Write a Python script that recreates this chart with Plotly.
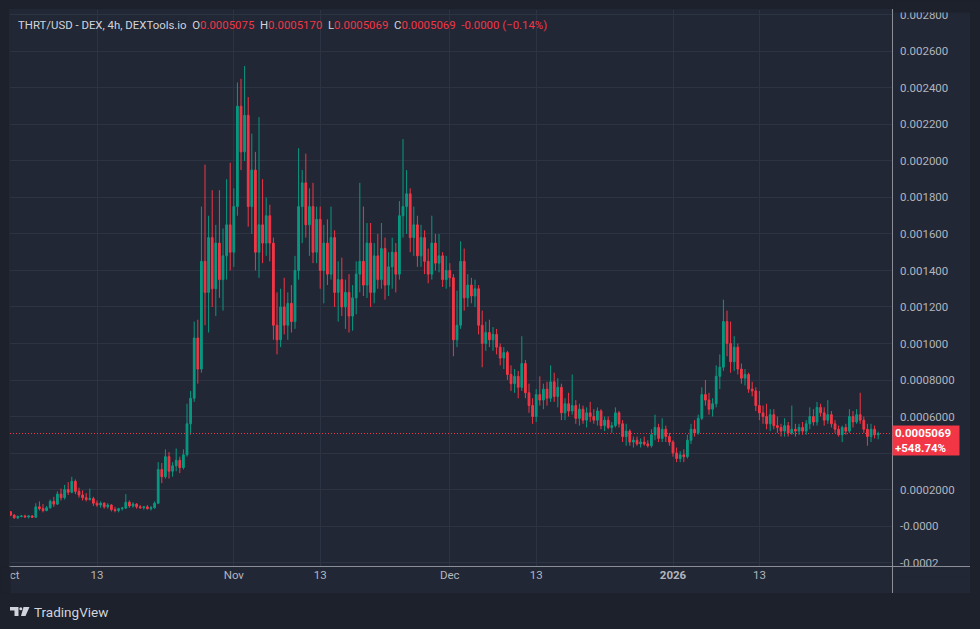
import plotly.graph_objects as go
import pandas as pd

# ---------------- data (prices in units of 1e-4 USD, 12h candles) ----------------
SCALE = 1e-4
START = "2025-10-01 00:00"
STEP = "12h"

OPEN = [0.78, 0.60, 0.45, 0.52, 0.55, 0.50, 0.55, 0.48, 1.05, 0.95,
        0.85, 1.00, 1.35, 1.20, 1.75, 1.55, 2.00, 1.85, 2.45, 1.90,
        1.70, 1.55, 1.45, 1.50, 1.25, 1.15, 1.25, 1.05, 1.15, 0.90,
        0.85, 0.95, 0.98, 1.30, 1.10, 1.20, 1.05, 1.00, 1.05, 0.95,
        1.00, 1.25, 3.10, 2.70, 3.80, 3.00, 3.30, 3.60, 3.20, 3.90,
        5.60, 7.00, 10.30, 8.60, 14.50, 12.80, 15.80, 13.00, 15.50, 13.50,
        14.80, 16.50, 15.00, 17.50, 23.00, 20.50, 22.50, 17.50, 19.50, 15.00,
        16.50, 15.50, 17.00, 15.50, 11.00, 10.20, 12.00, 11.00, 12.20, 11.20,
        14.00, 17.50, 18.80, 16.50, 17.50, 15.00, 16.80, 14.00, 15.50, 13.80,
        15.80, 12.80, 13.50, 12.00, 12.80, 11.50, 12.50, 13.80, 14.50, 13.20,
        15.50, 12.80, 14.80, 13.50, 15.20, 13.20, 14.20, 15.00, 13.80, 17.00,
        17.50, 18.20, 15.80, 16.50, 14.80, 15.80, 14.50, 13.80, 15.50, 14.40,
        14.80, 13.50, 14.00, 13.60, 10.20, 11.00, 14.50, 12.50, 13.20, 12.60,
        13.00, 11.00, 10.00, 10.60, 10.20, 10.50, 9.80, 9.20, 9.50, 8.30,
        7.80, 8.20, 7.60, 8.90, 7.30, 6.60, 6.00, 7.20, 6.90, 7.50,
        7.00, 7.90, 7.10, 7.60, 6.20, 6.70, 6.30, 6.60, 5.90, 6.40,
        5.80, 6.20, 6.00, 5.80, 6.30, 5.50, 5.80, 5.40, 5.50, 6.20,
        5.60, 4.90, 5.20, 4.60, 4.70, 4.50, 4.60, 4.50, 4.40, 5.00,
        5.40, 4.80, 5.30, 4.90, 4.60, 4.00, 3.70, 3.90, 3.80, 4.70,
        5.30, 5.10, 5.90, 7.20, 6.90, 6.40, 6.70, 8.20, 8.70, 11.20,
        10.00, 9.00, 9.80, 8.60, 8.10, 8.30, 7.50, 7.40, 6.60, 6.20,
        6.00, 5.60, 6.10, 5.50, 5.40, 5.20, 5.50, 5.10, 5.30, 5.20,
        5.40, 5.20, 5.60, 6.00, 5.70, 6.50, 6.20, 5.80, 6.10, 5.60,
        5.30, 5.00, 5.40, 5.20, 6.00, 5.70, 6.10, 5.80, 5.30, 4.90,
        5.30, 5.00]

HIGH = [0.82, 0.65, 0.58, 0.60, 0.62, 0.58, 0.60, 1.25, 1.35, 1.20,
        1.10, 1.45, 1.60, 1.90, 2.05, 2.25, 2.40, 2.70, 2.55, 2.10,
        1.95, 1.80, 2.05, 1.60, 1.40, 1.35, 1.30, 1.25, 1.20, 1.05,
        1.00, 1.05, 1.75, 1.40, 1.30, 1.25, 1.15, 1.10, 1.15, 1.10,
        1.35, 3.50, 3.45, 4.20, 4.05, 3.50, 4.25, 3.80, 4.20, 6.70,
        7.40, 11.20, 11.30, 17.50, 19.80, 17.00, 18.40, 16.50, 18.40, 16.30,
        19.00, 19.90, 18.50, 24.30, 24.50, 25.20, 23.50, 21.50, 20.50, 22.40,
        19.00, 18.00, 17.60, 15.80, 12.80, 13.00, 13.60, 12.80, 13.20, 14.80,
        20.70, 19.50, 20.40, 18.50, 18.80, 17.50, 17.50, 16.50, 16.80, 17.50,
        16.20, 14.50, 14.70, 13.50, 13.80, 13.20, 14.50, 18.80, 17.50, 16.60,
        16.60, 15.50, 16.00, 16.60, 15.80, 15.00, 15.80, 15.50, 17.80, 21.20,
        19.50, 18.50, 17.50, 17.00, 16.50, 16.20, 15.20, 17.00, 16.00, 16.00,
        15.00, 14.80, 14.40, 13.80, 12.90, 15.60, 15.20, 13.80, 13.60, 13.50,
        13.20, 11.80, 11.20, 11.30, 10.90, 10.80, 10.00, 9.80, 9.60, 8.80,
        8.60, 8.50, 10.40, 9.10, 7.80, 7.00, 7.50, 8.20, 7.80, 7.90,
        8.80, 8.40, 8.10, 7.80, 7.00, 7.30, 8.30, 6.90, 6.70, 6.60,
        6.50, 6.80, 6.40, 6.50, 6.40, 6.00, 6.00, 5.70, 6.50, 6.30,
        5.80, 5.60, 5.30, 4.90, 4.90, 4.80, 4.90, 4.70, 5.30, 6.10,
        5.60, 5.90, 5.50, 5.10, 4.70, 4.30, 4.10, 4.20, 5.00, 5.60,
        5.80, 6.10, 7.60, 8.00, 7.30, 7.00, 8.80, 9.40, 12.40, 11.80,
        11.20, 10.40, 10.00, 8.90, 8.60, 8.40, 7.90, 7.60, 7.40, 6.60,
        6.70, 6.40, 6.40, 6.00, 5.60, 5.90, 5.70, 6.60, 5.60, 5.60,
        5.70, 5.80, 6.50, 6.40, 6.80, 6.70, 6.50, 6.90, 6.30, 5.80,
        5.50, 5.50, 5.60, 6.40, 6.30, 6.40, 7.30, 6.00, 5.60, 5.60,
        5.50, 5.17]

LOW = [0.55, 0.40, 0.38, 0.48, 0.45, 0.42, 0.44, 0.45, 0.85, 0.75,
       0.80, 0.95, 1.05, 1.15, 1.40, 1.45, 1.70, 1.80, 1.75, 1.55,
       1.40, 1.35, 1.40, 1.10, 1.05, 1.00, 0.95, 0.95, 0.80, 0.75,
       0.75, 0.85, 0.95, 1.00, 1.00, 0.95, 0.95, 0.90, 0.90, 0.85,
       0.95, 1.20, 2.35, 2.60, 2.60, 2.70, 3.00, 2.90, 3.10, 3.80,
       5.00, 6.80, 7.80, 8.40, 11.00, 10.60, 12.00, 11.50, 12.50, 11.80,
       13.50, 14.00, 14.20, 17.00, 19.50, 20.00, 16.40, 16.00, 14.00, 13.60,
       14.40, 14.80, 14.50, 10.20, 9.40, 9.80, 10.50, 10.20, 10.60, 10.80,
       13.50, 15.50, 15.80, 14.80, 14.40, 14.40, 13.00, 12.20, 13.20, 13.50,
       12.00, 11.20, 11.50, 10.80, 10.60, 10.70, 11.60, 12.80, 12.60, 12.50,
       12.00, 12.20, 13.00, 13.00, 12.40, 12.60, 13.00, 12.80, 13.50, 15.80,
       16.00, 15.00, 14.80, 14.20, 14.20, 13.80, 13.30, 13.50, 14.00, 13.90,
       13.10, 13.00, 13.10, 9.30, 9.80, 10.80, 11.80, 12.00, 12.20, 12.00,
       10.50, 8.70, 9.60, 9.80, 9.60, 9.40, 8.80, 8.60, 8.00, 7.40,
       7.30, 7.00, 7.40, 7.00, 6.20, 5.60, 5.70, 6.60, 6.40, 6.60,
       6.80, 6.80, 6.50, 5.80, 5.80, 6.00, 6.10, 5.60, 5.50, 5.60,
       5.40, 5.70, 5.60, 5.50, 5.30, 5.20, 5.30, 5.10, 5.40, 5.40,
       4.60, 4.40, 4.40, 4.30, 4.40, 4.30, 4.40, 4.30, 4.30, 4.70,
       4.60, 4.60, 4.60, 4.40, 3.80, 3.50, 3.50, 3.50, 3.70, 4.50,
       4.90, 5.00, 5.80, 6.60, 6.10, 6.00, 6.50, 7.50, 8.50, 9.30,
       8.40, 8.50, 8.30, 7.80, 7.70, 7.30, 7.10, 6.30, 5.80, 5.60,
       5.30, 5.20, 5.30, 5.10, 4.90, 4.90, 4.90, 5.00, 4.90, 5.00,
       5.00, 5.00, 5.30, 5.50, 5.50, 6.00, 5.50, 5.60, 5.40, 5.10,
       4.90, 4.60, 5.00, 5.10, 5.40, 5.60, 5.60, 5.10, 4.40, 4.60,
       4.80, 4.75]

CLOSE = [0.60, 0.45, 0.52, 0.55, 0.50, 0.55, 0.48, 1.05, 0.95, 0.85,
         1.00, 1.35, 1.20, 1.75, 1.55, 2.00, 1.85, 2.45, 1.90, 1.70,
         1.55, 1.45, 1.50, 1.25, 1.15, 1.25, 1.05, 1.15, 0.90, 0.85,
         0.95, 0.98, 1.30, 1.10, 1.20, 1.05, 1.00, 1.05, 0.95, 1.00,
         1.25, 3.10, 2.70, 3.80, 3.00, 3.30, 3.60, 3.20, 3.90, 5.60,
         7.00, 10.30, 8.60, 14.50, 12.80, 15.80, 13.00, 15.50, 13.50, 14.80,
         16.50, 15.00, 17.50, 23.00, 20.50, 22.50, 17.50, 19.50, 15.00, 16.50,
         15.50, 17.00, 15.50, 11.00, 10.20, 12.00, 11.00, 12.20, 11.20, 14.00,
         17.50, 18.80, 16.50, 17.50, 15.00, 16.80, 14.00, 15.50, 13.80, 15.80,
         12.80, 13.50, 12.00, 12.80, 11.50, 12.50, 13.80, 14.50, 13.20, 15.50,
         12.80, 14.80, 13.50, 15.20, 13.20, 14.20, 15.00, 13.80, 17.00, 17.50,
         18.20, 15.80, 16.50, 14.80, 15.80, 14.50, 13.80, 15.50, 14.40, 14.80,
         13.50, 14.00, 13.60, 10.20, 11.00, 14.50, 12.50, 13.20, 12.60, 13.00,
         11.00, 10.00, 10.60, 10.20, 10.50, 9.80, 9.20, 9.50, 8.30, 7.80,
         8.20, 7.60, 8.90, 7.30, 6.60, 6.00, 7.20, 6.90, 7.50, 7.00,
         7.90, 7.10, 7.60, 6.20, 6.70, 6.30, 6.60, 5.90, 6.40, 5.80,
         6.20, 6.00, 5.80, 6.30, 5.50, 5.80, 5.40, 5.50, 6.20, 5.60,
         4.90, 5.20, 4.60, 4.70, 4.50, 4.60, 4.50, 4.40, 5.00, 5.40,
         4.80, 5.30, 4.90, 4.60, 4.00, 3.70, 3.90, 3.80, 4.70, 5.30,
         5.10, 5.90, 7.20, 6.90, 6.40, 6.70, 8.20, 8.70, 11.20, 10.00,
         9.00, 9.80, 8.60, 8.10, 8.30, 7.50, 7.40, 6.60, 6.20, 6.00,
         5.60, 6.10, 5.50, 5.40, 5.20, 5.50, 5.10, 5.30, 5.20, 5.40,
         5.20, 5.60, 6.00, 5.70, 6.50, 6.20, 5.80, 6.10, 5.60, 5.30,
         5.00, 5.40, 5.20, 6.00, 5.70, 6.10, 5.80, 5.30, 4.90, 5.30,
         5.00, 5.069]

Y_TICK_VALUES = [-0.0002, 0.0, 0.0002, 0.0004, 0.0006, 0.0008, 0.0010, 0.0012,
                 0.0014, 0.0016, 0.0018, 0.0020, 0.0022, 0.0024, 0.0026, 0.0028]
# the 0.0004 label sits under the last-price badge in the reference, so it is left blank
Y_TICK_LABELS = ["-0.0002", "-0.0000", "0.0002000", "", "0.0006000", "0.0008000",
                 "0.001000", "0.001200", "0.001400", "0.001600", "0.001800", "0.002000",
                 "0.002200", "0.002400", "0.002600", "0.002800"]
X_TICK_DATES = ["2025-10-01", "2025-10-13", "2025-11-01", "2025-11-13",
                "2025-12-01", "2025-12-13", "2026-01-01", "2026-01-13"]
X_TICK_LABELS = ["Oct", "13", "Nov", "13", "Dec", "13", "<b>2026</b>", "13"]

SYMBOL = "THRT/USD - DEX, 4h, DEXTools.io"
HDR_O, HDR_H, HDR_L, HDR_C = "0.0005075", "0.0005170", "0.0005069", "0.0005069"
HDR_CHG = "-0.0000 (\u22120.14%)"
LAST_PRICE = 0.0005069
LAST_PRICE_TXT = "0.0005069"
CHANGE_TXT = "+548.74%"

# ---------------- style ----------------
W, H = 980, 629
PL, PR, PT, PB = 10, 892, 10, 566          # plot area in pixels
OUTER = "#1d212b"
PANE = "#212735"
GRID = "#2c3342"
TXT = "#b2b5be"
GREEN = "#089981"
RED = "#f23645"
FONT = "Roboto, 'Open Sans', sans-serif"


def px(x):
    return (x - PL) / (PR - PL)


def py(y):
    return (PB - y) / (PB - PT)


times = pd.date_range(START, periods=len(CLOSE), freq=STEP)

fig = go.Figure()
fig.add_trace(go.Candlestick(
    x=times,
    open=[v * SCALE for v in OPEN],
    high=[v * SCALE for v in HIGH],
    low=[v * SCALE for v in LOW],
    close=[v * SCALE for v in CLOSE],
    increasing=dict(line=dict(color=GREEN, width=1), fillcolor=GREEN),
    decreasing=dict(line=dict(color=RED, width=1), fillcolor=RED),
    whiskerwidth=0,
    hoverinfo="skip",
    showlegend=False,
))

fig.update_layout(
    width=W, height=H,
    margin=dict(l=PL, r=W - PR, t=PT, b=H - PB, pad=0, autoexpand=False),
    paper_bgcolor=OUTER,
    plot_bgcolor=PANE,
    font=dict(family=FONT, color=TXT, size=11),
    showlegend=False,
    hovermode=False,
    xaxis=dict(
        type="date",
        range=["2025-09-30 22:00", "2026-01-31 10:00"],
        tickvals=X_TICK_DATES,
        ticktext=X_TICK_LABELS,
        showgrid=True, gridcolor=GRID, gridwidth=1,
        zeroline=False, showline=False, ticks="",
        tickfont=dict(size=11.5, color=TXT, family=FONT),
        rangeslider=dict(visible=False),
        automargin=False,
        fixedrange=True,
    ),
    yaxis=dict(
        side="right",
        range=[-0.000219, 0.002827],
        tickvals=Y_TICK_VALUES,
        ticktext=Y_TICK_LABELS,
        showgrid=True, gridcolor=GRID, gridwidth=1,
        zeroline=False, showline=False, ticks="",
        tickfont=dict(size=11.5, color=TXT, family=FONT),
        ticklabelstandoff=7,
        automargin=False,
        fixedrange=True,
    ),
)

shapes = [
    # pane background (includes axis areas)
    dict(type="rect", xref="paper", yref="paper", layer="below",
         x0=px(9), x1=px(970), y0=py(593), y1=py(9),
         fillcolor=PANE, line=dict(width=0)),
    # price-scale separator and time-scale separator
    dict(type="line", xref="paper", yref="paper", layer="above",
         x0=px(892.5), x1=px(892.5), y0=py(593), y1=py(9),
         line=dict(color="#8b8e97", width=1)),
    dict(type="line", xref="paper", yref="paper", layer="above",
         x0=px(9), x1=px(970), y0=py(566.5), y1=py(566.5),
         line=dict(color="#8b8e97", width=1)),
    # last price dotted line
    dict(type="line", xref="paper", yref="y", layer="above",
         x0=0, x1=1, y0=LAST_PRICE, y1=LAST_PRICE,
         line=dict(color=RED, width=1, dash="1px,2px")),
    # TradingView logo
    dict(type="path", xref="paper", yref="paper", layer="above",
         path=f"M {px(10)} {py(607)} L {px(18.5)} {py(607)} L {px(18.5)} {py(616)} "
              f"L {px(14.5)} {py(616)} L {px(14.5)} {py(610.5)} L {px(10)} {py(610.5)} Z",
         fillcolor="#d1d4dc", line=dict(width=0)),
    dict(type="circle", xref="paper", yref="paper", layer="above",
         x0=px(19.3), x1=px(22.3), y0=py(610.2), y1=py(607.2),
         fillcolor="#d1d4dc", line=dict(width=0)),
    dict(type="path", xref="paper", yref="paper", layer="above",
         path=f"M {px(23.5)} {py(607)} L {px(29.5)} {py(607)} L {px(25.5)} {py(616)} "
              f"L {px(21.0)} {py(616)} Z",
         fillcolor="#d1d4dc", line=dict(width=0)),
]
fig.update_layout(shapes=shapes)

header = (f"<span style='color:#d1d4dc'>{SYMBOL}</span>&nbsp;&nbsp;"
          f"<span style='color:#d1d4dc'>O</span><span style='color:{RED}'>{HDR_O}</span>&nbsp;&nbsp;"
          f"<span style='color:#d1d4dc'>H</span><span style='color:{RED}'>{HDR_H}</span>&nbsp;&nbsp;"
          f"<span style='color:#d1d4dc'>L</span><span style='color:{RED}'>{HDR_L}</span>&nbsp;&nbsp;"
          f"<span style='color:#d1d4dc'>C</span><span style='color:{RED}'>{HDR_C}</span>&nbsp;&nbsp;"
          f"<span style='color:{RED}'>{HDR_CHG}</span>")

annotations = [
    dict(xref="paper", yref="paper", x=px(16), y=py(25), xanchor="left", yanchor="middle",
         text=header, showarrow=False, font=dict(size=11.4, family=FONT, color="#d1d4dc")),
    # last price label
    dict(xref="paper", yref="paper", x=px(892), y=py(440.5), xanchor="left", yanchor="middle",
         text=f"<b>{LAST_PRICE_TXT}<br>{CHANGE_TXT}</b>", showarrow=False, align="left",
         bgcolor=RED, width=62, height=25, borderpad=2,
         font=dict(size=11.5, family=FONT, color="#ffffff")),
    # clip the first month label at the pane edge
    dict(xref="paper", yref="paper", x=px(0), y=py(580), xanchor="left", yanchor="middle",
         text=" ", showarrow=False, bgcolor=OUTER, width=9, height=26, borderpad=0),
    # clip the top price label at the pane top edge
    dict(xref="paper", yref="paper", x=px(893), y=py(0), xanchor="left", yanchor="top",
         text=" ", showarrow=False, bgcolor=OUTER, width=87, height=11, borderpad=0),
    # clip the bottom price label at the time-scale line
    dict(xref="paper", yref="paper", x=px(894), y=py(567.5), xanchor="left", yanchor="top",
         text=" ", showarrow=False, bgcolor=PANE, width=70, height=8, borderpad=0),
    # TradingView brand text
    dict(xref="paper", yref="paper", x=px(32), y=py(611.5), xanchor="left", yanchor="middle",
         text="TradingView", showarrow=False, font=dict(size=13.5, family=FONT, color="#d1d4dc")),
]
fig.update_layout(annotations=annotations)

fig.write_html("out.html", config={"displayModeBar": False, "staticPlot": True})
